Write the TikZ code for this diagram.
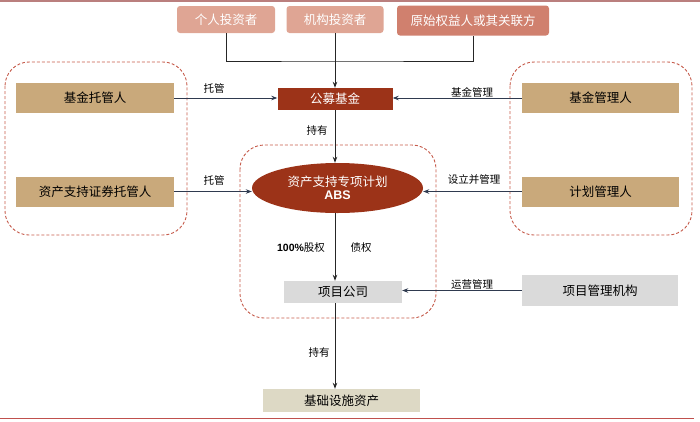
\documentclass[tikz,border=0pt]{standalone}
\usepackage{fontspec}
\newfontfamily\cjk{Noto Sans CJK SC}
\newfontfamily\arialf{Liberation Sans}
\usetikzlibrary{arrows.meta,shapes.geometric,calc}
\definecolor{salmon}{HTML}{DFA594}
\definecolor{salmondk}{HTML}{D0806E}
\definecolor{brick}{HTML}{9C3318}
\definecolor{tan}{HTML}{C9A97B}
\definecolor{lgray}{HTML}{DADADA}
\definecolor{beige}{HTML}{DDD9C5}
\definecolor{dashred}{HTML}{C55A4A}
\definecolor{arr}{HTML}{2F3A4F}
\definecolor{topline}{HTML}{BA7F7E}
\definecolor{botline}{HTML}{C0504D}
\tikzset{
  box/.style={inner sep=0pt, minimum width=#1, font=\cjk\fontsize{12.5}{14}\selectfont, text=black},
  topbox/.style={box=#1, minimum height=27pt, rounded corners=3pt, text=white},
  tanbox/.style={box=#1, fill=tan, minimum height=30pt},
  graybox/.style={box=#1, fill=lgray},
  grp/.style={draw=dashred, line width=0.9pt, dash pattern=on 3pt off 2pt, rounded corners=24pt},
  conn/.style={draw=arr, line width=0.8pt, -{Stealth[length=6pt,width=4.5pt]}},
  vconn/.style={draw=black!85, line width=0.9pt, -{Stealth[length=6pt,width=4.5pt]}},
  plain/.style={draw=black!85, line width=0.9pt},
  lab/.style={font=\cjk\fontsize{10.5}{12}\selectfont, inner sep=0pt, text=black}
}
\begin{document}
\begin{tikzpicture}[x=1pt,y=-1pt]
\useasboundingbox (0,0) rectangle (700,421);
\draw[topline, line width=1.5pt] (0,0.8) -- (700,0.8);
\draw[botline, line width=1.5pt] (0,418.5) -- (694,418.5);

% groups
\draw[grp] (5,62) rectangle (187,235);
\draw[grp] (510,62) rectangle (692,235);
\draw[grp] (240,145) rectangle (436,318);

% top investors
\node[topbox=98pt, fill=salmon] (g1) at (226,19.5) {个人投资者};
\node[topbox=97pt, fill=salmon] (g2) at (335,19.5) {机构投资者};
\node[topbox=152pt, fill=salmondk, minimum height=30pt] (g3) at (473,20.5) {原始权益人或其关联方};

% fund
\node[box=115pt, fill=brick, text=white, minimum height=22pt] (fund) at (335,99) {公募基金};

% left
\node[tanbox=158pt] (ft) at (95,98) {基金托管人};
\node[tanbox=158pt] (at) at (95,191.5) {资产支持证券托管人};
% right
\node[tanbox=157pt] (fm) at (600.5,98) {基金管理人};
\node[tanbox=157pt] (pm) at (600.5,191.5) {计划管理人};

% ABS ellipse
\node[ellipse, fill=brick, minimum width=171pt, minimum height=50pt, inner sep=0pt, text=white, align=center] (abs) at (337.5,188)
  {{\cjk\fontsize{12.5}{14}\selectfont 资产支持专项计划}\\[1pt]{\arialf\bfseries\fontsize{12.5}{14}\selectfont ABS}};

% project company
\node[graybox=118pt, minimum height=22pt] (pc) at (343,292) {项目公司};
\node[graybox=156pt, minimum height=31pt] (pmo) at (600,290.5) {项目管理机构};
\node[box=157pt, fill=beige, minimum height=23pt] (base) at (341.5,400.5) {基础设施资产};

% top connectors
\coordinate (j) at (335,61);
\draw[plain] (g1.south) |- (j) -| (g3.south);
\draw[vconn] (g2.south) -- (fund.north);

% horizontal connectors
\draw[conn] (ft.east) -- (ft.east -| fund.west);
\draw[conn] (fm.west) -- (fm.west -| fund.east);
\draw[conn] (at.east) -- (at.east -| abs.west);
\draw[conn] (pm.west) -- (pm.west -| abs.east);
\draw[conn] (pmo.west) -- (pmo.west -| pc.east);

% vertical connectors
\draw[vconn] (fund.south) -- (fund.south |- abs.north);
\draw[vconn] (fund.south |- abs.south) -- (fund.south |- pc.north);
\draw[vconn] (fund.south |- pc.south) -- (fund.south |- base.north);

% labels
\node[lab] (l1) at (214,88) {托管};
\node[lab] (l2) at (214,180) {托管};
\node[lab] (l3) at (472,92) {基金管理};
\node[lab] (l4) at (474,180) {设立并管理};
\node[lab] (l5) at (317,130) {持有};
\node[lab] (l6) at (301,248) {{\arialf\bfseries 100\%}股权};
\node[lab] (l7) at (361,248) {债权};
\node[lab] (l8) at (472,285) {运营管理};
\node[lab] (l9) at (319,352) {持有};
\end{tikzpicture}
\end{document}
